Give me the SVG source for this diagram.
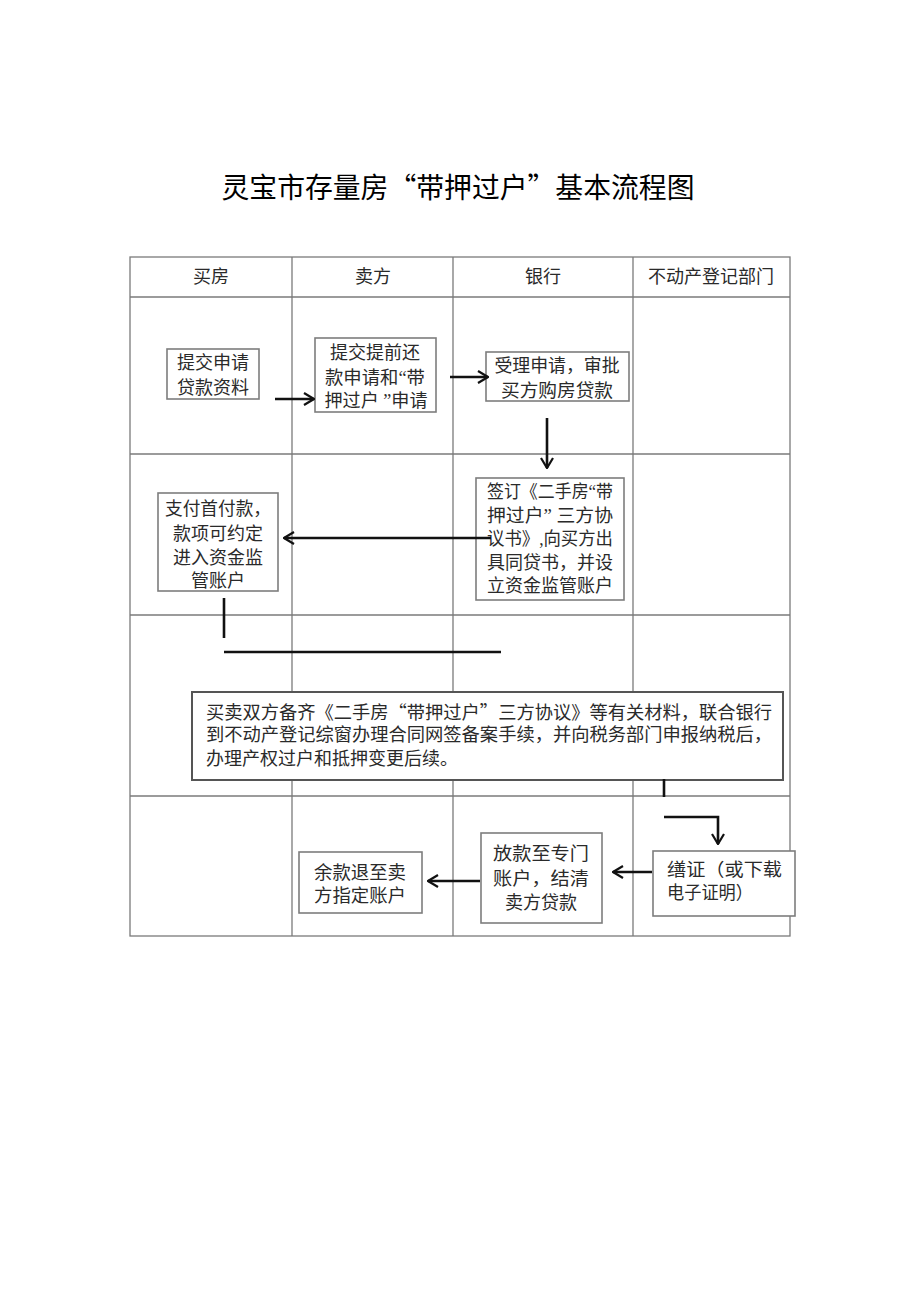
<svg xmlns="http://www.w3.org/2000/svg" width="920" height="1301" viewBox="0 0 920 1301">
<defs>
<style>
.tbl{stroke:#7a7a7a;stroke-width:1.3;fill:none}
.box{stroke:#7d7d7d;stroke-width:1.6;fill:#fff}
.t{font-family:"Liberation Serif","Noto Sans CJK SC",serif;font-size:18px;fill:#2a2a2a}
.q{font-family:"Noto Sans CJK SC",sans-serif}
.c{text-anchor:middle}
.ln{stroke:#111;stroke-width:2.6;fill:none}
.title{font-family:"Noto Sans CJK SC",sans-serif;font-size:28px;fill:#000;text-anchor:middle}
</style>
<marker id="ah" viewBox="0 0 12 14" refX="11" refY="7" markerWidth="12" markerHeight="14" markerUnits="userSpaceOnUse" orient="auto">
<path d="M1,1 L11,7 L1,13" fill="none" stroke="#111" stroke-width="2.2"/>
</marker>
</defs>
<rect width="920" height="1301" fill="#fff"/>
<text class="title" x="458" y="198" textLength="473" lengthAdjust="spacingAndGlyphs">灵宝市存量房“带押过户”基本流程图</text>

<g id="table">
<rect class="tbl" x="130" y="257" width="660" height="679"/>
<line class="tbl" x1="292" y1="257" x2="292" y2="936"/>
<line class="tbl" x1="453" y1="257" x2="453" y2="936"/>
<line class="tbl" x1="633" y1="257" x2="633" y2="936"/>
<line class="tbl" x1="130" y1="297" x2="790" y2="297"/>
<line class="tbl" x1="130" y1="454" x2="790" y2="454"/>
<line class="tbl" x1="130" y1="615" x2="790" y2="615"/>
<line class="tbl" x1="130" y1="796" x2="790" y2="796"/>
<text class="t c" x="211" y="283">买房</text>
<text class="t c" x="373" y="283">卖方</text>
<text class="t c" x="543" y="283">银行</text>
<text class="t c" x="711" y="283">不动产登记部门</text>
</g>

<g id="n1">
<rect class="box" x="167" y="349" width="92" height="50"/>
<text class="t c" x="213" y="368.5">提交申请</text>
<text class="t c" x="213" y="393.5">贷款资料</text>
</g>
<g id="n2">
<rect class="box" x="315" y="338" width="121" height="74"/>
<text class="t c" x="375" y="358.5" textLength="90" lengthAdjust="spacingAndGlyphs">提交提前还</text>
<text class="t c" x="375" y="383.5" textLength="100" lengthAdjust="spacingAndGlyphs">款申请和“带</text>
<text class="t c" x="376" y="406.5" textLength="103" lengthAdjust="spacingAndGlyphs">押过户 ”申请</text>
</g>
<g id="n3">
<rect class="box" x="486" y="352" width="143" height="49"/>
<text class="t c" x="557" y="371.5" textLength="125" lengthAdjust="spacingAndGlyphs">受理申请，审批</text>
<text class="t c" x="557" y="396.5" textLength="112" lengthAdjust="spacingAndGlyphs">买方购房贷款</text>
</g>
<g id="n4">
<rect class="box" x="158" y="493" width="120" height="98"/>
<text class="t c" x="218" y="514.5" textLength="106" lengthAdjust="spacingAndGlyphs">支付首付款，</text>
<text class="t c" x="218" y="539.5">款项可约定</text>
<text class="t c" x="218" y="563.5">进入资金监</text>
<text class="t c" x="218" y="586.5">管账户</text>
</g>
<g id="n5">
<rect class="box" x="476" y="478" width="148" height="122"/>
<text class="t" x="487" y="497.5" textLength="126" lengthAdjust="spacingAndGlyphs">签订《二手房“带</text>
<text class="t" x="487" y="521.5" textLength="126" lengthAdjust="spacingAndGlyphs">押过户” 三方协</text>
<text class="t" x="487" y="544.5" textLength="126" lengthAdjust="spacingAndGlyphs">议书》,向买方出</text>
<text class="t" x="487" y="568.5" textLength="126" lengthAdjust="spacingAndGlyphs">具同贷书，并设</text>
<text class="t" x="487" y="591.5" textLength="126" lengthAdjust="spacingAndGlyphs">立资金监管账户</text>
</g>
<g id="n6">
<rect class="box" x="192" y="692" width="591" height="88" style="stroke:#555;stroke-width:2"/>
<text class="t q" x="206" y="718.5" textLength="566" lengthAdjust="spacingAndGlyphs">买卖双方备齐《二手房“带押过户”三方协议》等有关材料，联合银行</text>
<text class="t" x="206" y="740.5" textLength="566" lengthAdjust="spacingAndGlyphs">到不动产登记综窗办理合同网签备案手续，并向税务部门申报纳税后，</text>
<text class="t" x="206" y="764.5" textLength="252" lengthAdjust="spacingAndGlyphs">办理产权过户和抵押变更后续。</text>
</g>
<g id="n7">
<rect class="box" x="653" y="851" width="142" height="65"/>
<text class="t" x="667" y="875.5" textLength="115" lengthAdjust="spacingAndGlyphs">缮证（或下载</text>
<text class="t" x="667" y="898.5" textLength="86" lengthAdjust="spacingAndGlyphs">电子证明）</text>
</g>
<g id="n8">
<rect class="box" x="481" y="833" width="121" height="90"/>
<text class="t c" x="541" y="859.5" textLength="96" lengthAdjust="spacingAndGlyphs">放款至专门</text>
<text class="t c" x="541" y="884.5" textLength="96" lengthAdjust="spacingAndGlyphs">账户，结清</text>
<text class="t c" x="541" y="908.5">卖方贷款</text>
</g>
<g id="n9">
<rect class="box" x="299" y="852" width="123" height="61"/>
<text class="t c" x="360" y="878.5" textLength="92" lengthAdjust="spacingAndGlyphs">余款退至卖</text>
<text class="t c" x="360" y="901.5" textLength="92" lengthAdjust="spacingAndGlyphs">方指定账户</text>
</g>

<g id="connectors">
<line class="ln" x1="275" y1="399" x2="314" y2="399" marker-end="url(#ah)"/>
<line class="ln" x1="450" y1="377" x2="488" y2="377" marker-end="url(#ah)"/>
<line class="ln" x1="547" y1="418" x2="547" y2="468" marker-end="url(#ah)"/>
<line class="ln" x1="491" y1="538" x2="284" y2="538" marker-end="url(#ah)"/>
<line class="ln" x1="224" y1="598" x2="224" y2="638"/>
<line class="ln" x1="224" y1="652" x2="501" y2="652"/>
<line class="ln" x1="664" y1="779" x2="664" y2="797"/>
<polyline class="ln" points="664,817 718,817 718,844" marker-end="url(#ah)"/>
<line class="ln" x1="652" y1="872" x2="613" y2="872" marker-end="url(#ah)"/>
<line class="ln" x1="480" y1="881" x2="428" y2="881" marker-end="url(#ah)"/>
</g>
</svg>
